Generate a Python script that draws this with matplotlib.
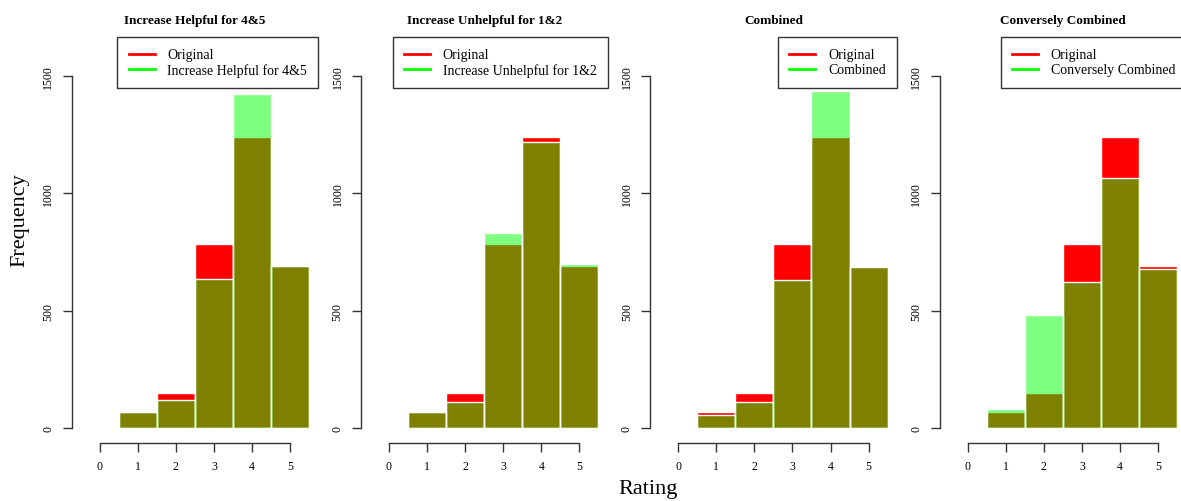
import matplotlib
matplotlib.use("Agg")
import matplotlib.pyplot as plt
from matplotlib.lines import Line2D

plt.rcParams['font.family'] = ['Liberation Serif', 'DejaVu Serif']

ratings = [1, 2, 3, 4, 5]
original = [70, 149, 783, 1238, 689]

titles = ['Increase Helpful for 4&5', 'Increase Unhelpful for 1&2',
          'Combined', 'Conversely Combined']
helpful_45 = [70, 120, 635, 1422, 689]
unhelpful_12 = [70, 111, 831, 1219, 698]
combined = [57, 111, 633, 1436, 686]
conversely = [82, 481, 624, 1065, 677]
modified = [helpful_45, unhelpful_12, combined, conversely]

W, H = 1181, 502
fig = plt.figure(figsize=(W / 100, H / 100), dpi=100)

lefts = [71.5, 360.8, 650, 939.5]
ax_w, ax_top, ax_bot = 246.8, 38.3, 444.3
axcol = '#333333'

for left, title, mod in zip(lefts, titles, modified):
    ax = fig.add_axes([left / W, (H - ax_bot) / H, ax_w / W, (ax_bot - ax_top) / H])
    ax.bar(ratings, original, width=1, color='#ff0000', edgecolor='white', linewidth=1)
    ax.bar(ratings, mod, width=1, color=(0, 1, 0, 0.5), edgecolor='white', linewidth=1)
    ax.set_xlim(-0.74, 5.74)
    ax.set_ylim(-64, 1664)

    for s in ['top', 'right']:
        ax.spines[s].set_visible(False)
    ax.spines['left'].set_bounds(0, 1500)
    ax.spines['bottom'].set_bounds(0, 5)
    for s in ['left', 'bottom']:
        ax.spines[s].set_color(axcol)
        ax.spines[s].set_linewidth(1)

    ax.set_xticks([0, 1, 2, 3, 4, 5])
    ax.set_yticks([0, 500, 1000, 1500])
    ax.tick_params(axis='both', length=6.3, width=1, color=axcol, labelsize=8.5, pad=6)
    ax.tick_params(axis='x', pad=6)
    for lab in ax.get_yticklabels():
        lab.set_rotation(90)
        lab.set_va('center')

    ax.set_title(title, fontsize=9.5, fontweight='bold', pad=10)

    handles = [Line2D([], [], color='#ff0000', lw=2),
               Line2D([], [], color='#00ff00', lw=2)]
    leg = ax.legend(handles, ['Original', title], loc='upper right', fontsize=10,
                    borderaxespad=0, fancybox=False, framealpha=1, edgecolor=axcol,
                    handlelength=1.9, handletextpad=0.9, borderpad=0.8,
                    labelspacing=0.15)
    leg.get_frame().set_linewidth(1)

fig.text(20 / W, 1 - 220 / H, 'Frequency', rotation=90, fontsize=16,
         ha='center', va='center')
fig.text(648 / W, 1 - 490 / H, 'Rating', fontsize=16, ha='center', va='center')

fig.savefig('out.png', dpi=100)
